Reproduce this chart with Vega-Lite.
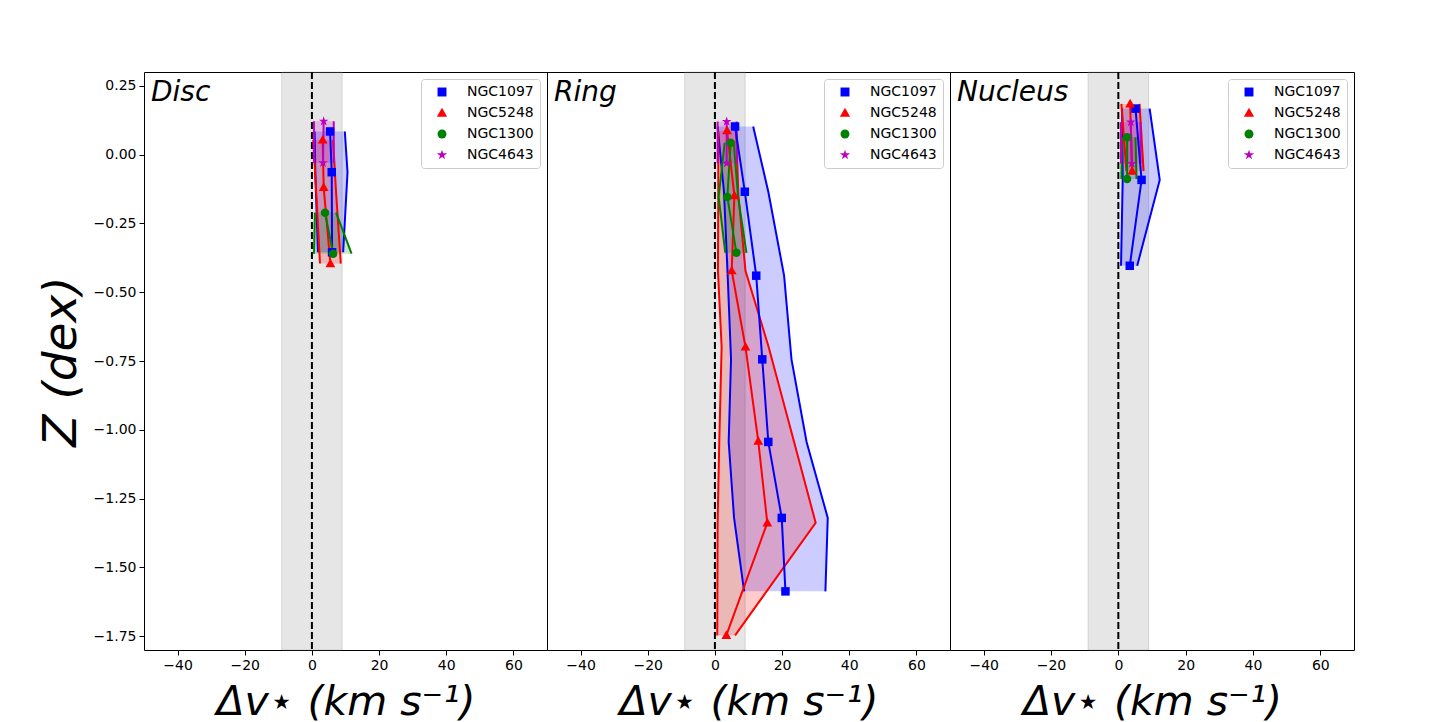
{
  "$schema": "https://vega.github.io/schema/vega-lite/v6.json",
  "padding": {"left": 36, "top": 70, "right": 0, "bottom": 0},
  "bounds": "flush",
  "spacing": 0,
  "datasets": {
    "d": [
      {"panel": "Disc", "galaxy": "NGC1097", "Z": 0.084, "dv": 5.4, "lo": 0.8, "hi": 9.8},
      {"panel": "Disc", "galaxy": "NGC1097", "Z": -0.064, "dv": 5.9, "lo": 1.0, "hi": 10.6},
      {"panel": "Disc", "galaxy": "NGC1097", "Z": -0.355, "dv": 6.0, "lo": 1.8, "hi": 9.3},
      {"panel": "Disc", "galaxy": "NGC5248", "Z": 0.053, "dv": 3.2, "lo": 0.4, "hi": 6.3},
      {"panel": "Disc", "galaxy": "NGC5248", "Z": -0.119, "dv": 3.5, "lo": 1.2, "hi": 7.1},
      {"panel": "Disc", "galaxy": "NGC5248", "Z": -0.396, "dv": 5.5, "lo": 2.4, "hi": 8.6},
      {"panel": "Disc", "galaxy": "NGC1300", "Z": -0.211, "dv": 3.9, "lo": 0.9, "hi": 7.2},
      {"panel": "Disc", "galaxy": "NGC1300", "Z": -0.36, "dv": 6.3, "lo": 0.6, "hi": 11.8},
      {"panel": "Disc", "galaxy": "NGC4643", "Z": 0.121, "dv": 3.5, "lo": 0.6, "hi": 6.5},
      {"panel": "Disc", "galaxy": "NGC4643", "Z": -0.03, "dv": 3.3, "lo": 0.6, "hi": 6.5},

      {"panel": "Ring", "galaxy": "NGC1097", "Z": 0.102, "dv": 6.0, "lo": 0.8, "hi": 11.4},
      {"panel": "Ring", "galaxy": "NGC1097", "Z": -0.135, "dv": 8.9, "lo": 2.7, "hi": 15.9},
      {"panel": "Ring", "galaxy": "NGC1097", "Z": -0.44, "dv": 12.3, "lo": 3.8, "hi": 20.6},
      {"panel": "Ring", "galaxy": "NGC1097", "Z": -0.744, "dv": 14.1, "lo": 4.8, "hi": 22.8},
      {"panel": "Ring", "galaxy": "NGC1097", "Z": -1.044, "dv": 15.9, "lo": 4.1, "hi": 27.3},
      {"panel": "Ring", "galaxy": "NGC1097", "Z": -1.32, "dv": 19.9, "lo": 5.7, "hi": 33.6},
      {"panel": "Ring", "galaxy": "NGC1097", "Z": -1.587, "dv": 21.0, "lo": 8.7, "hi": 32.9},
      {"panel": "Ring", "galaxy": "NGC5248", "Z": 0.087, "dv": 3.6, "lo": 1.0, "hi": 6.3},
      {"panel": "Ring", "galaxy": "NGC5248", "Z": -0.149, "dv": 5.8, "lo": 1.0, "hi": 7.0},
      {"panel": "Ring", "galaxy": "NGC5248", "Z": -0.422, "dv": 5.0, "lo": 0.9, "hi": 9.1},
      {"panel": "Ring", "galaxy": "NGC5248", "Z": -0.699, "dv": 9.1, "lo": 2.0, "hi": 16.0},
      {"panel": "Ring", "galaxy": "NGC5248", "Z": -1.041, "dv": 12.9, "lo": 1.3, "hi": 23.5},
      {"panel": "Ring", "galaxy": "NGC5248", "Z": -1.338, "dv": 15.6, "lo": 0.8, "hi": 30.0},
      {"panel": "Ring", "galaxy": "NGC5248", "Z": -1.747, "dv": 3.4, "lo": 0.7, "hi": 6.0},
      {"panel": "Ring", "galaxy": "NGC1300", "Z": 0.043, "dv": 4.7, "lo": 2.9, "hi": 5.6},
      {"panel": "Ring", "galaxy": "NGC1300", "Z": -0.154, "dv": 3.7, "lo": 1.1, "hi": 6.9},
      {"panel": "Ring", "galaxy": "NGC1300", "Z": -0.357, "dv": 6.4, "lo": 3.1, "hi": 9.4},
      {"panel": "Ring", "galaxy": "NGC4643", "Z": 0.12, "dv": 3.5, "lo": 0.8, "hi": 6.5},
      {"panel": "Ring", "galaxy": "NGC4643", "Z": -0.032, "dv": 3.5, "lo": 0.8, "hi": 6.5},

      {"panel": "Nucleus", "galaxy": "NGC1097", "Z": 0.167, "dv": 5.1, "lo": 1.1, "hi": 9.3},
      {"panel": "Nucleus", "galaxy": "NGC1097", "Z": -0.092, "dv": 6.9, "lo": 1.3, "hi": 12.3},
      {"panel": "Nucleus", "galaxy": "NGC1097", "Z": -0.404, "dv": 3.4, "lo": 0.8, "hi": 5.6},
      {"panel": "Nucleus", "galaxy": "NGC5248", "Z": 0.184, "dv": 3.5, "lo": 0.9, "hi": 6.3},
      {"panel": "Nucleus", "galaxy": "NGC5248", "Z": -0.06, "dv": 4.1, "lo": 2.4, "hi": 7.5},
      {"panel": "Nucleus", "galaxy": "NGC1300", "Z": 0.063, "dv": 2.6, "lo": 1.1, "hi": 5.1},
      {"panel": "Nucleus", "galaxy": "NGC1300", "Z": -0.089, "dv": 2.6, "lo": 0.9, "hi": 5.4},
      {"panel": "Nucleus", "galaxy": "NGC4643", "Z": 0.118, "dv": 3.7, "lo": 0.8, "hi": 6.6},
      {"panel": "Nucleus", "galaxy": "NGC4643", "Z": -0.033, "dv": 4.0, "lo": 0.8, "hi": 6.6}
    ]
  },
  "hconcat": [
    {
      "width": 403,
      "height": 578,
      "layer": [
        {"data": {"values": [{}]}, "mark": {"type": "rect", "color": "gray", "fillOpacity": 0.2, "stroke": "gray", "strokeOpacity": 0.25, "strokeWidth": 1},
         "encoding": {"x": {"datum": -9, "type": "quantitative", "scale": {"domain": [-50, 70], "nice": false}, "title": "Δv⋆ (km s⁻¹)", "axis": {"values": [-40, -20, 0, 20, 40, 60]}}, "x2": {"datum": 9}}},
        {"data": {"values": [{}]}, "mark": {"type": "rule", "color": "black", "strokeWidth": 2, "strokeDash": [7, 3]},
         "encoding": {"x": {"datum": 0, "type": "quantitative", "scale": {"domain": [-50, 70], "nice": false}, "title": "Δv⋆ (km s⁻¹)", "axis": {"values": [-40, -20, 0, 20, 40, 60]}}}},
        {"data": {"name": "d"}, "transform": [{"filter": "datum.panel === 'Disc'"}],
         "layer": [
           {"mark": {"type": "area", "orient": "horizontal", "fillOpacity": 0.2},
            "encoding": {"x": {"field": "lo", "type": "quantitative", "scale": {"domain": [-50, 70], "nice": false}, "title": "Δv⋆ (km s⁻¹)", "axis": {"values": [-40, -20, 0, 20, 40, 60]}}, "x2": {"field": "hi"},
              "y": {"field": "Z", "type": "quantitative", "scale": {"domain": [-1.8, 0.3], "nice": false, "zero": false}, "title": "Z (dex)", "axis": {"values": [-1.75, -1.5, -1.25, -1, -0.75, -0.5, -0.25, 0, 0.25]}},
              "color": {"field": "galaxy", "type": "nominal", "title": null, "scale": {"domain": ["NGC1097", "NGC5248", "NGC1300", "NGC4643"], "range": ["#0000ff", "#ff0000", "#008000", "#bf00bf"]}}}},
           {"mark": {"type": "line", "strokeWidth": 2},
            "encoding": {"x": {"field": "lo", "type": "quantitative", "scale": {"domain": [-50, 70], "nice": false}, "title": "Δv⋆ (km s⁻¹)", "axis": {"values": [-40, -20, 0, 20, 40, 60]}},
              "y": {"field": "Z", "type": "quantitative", "scale": {"domain": [-1.8, 0.3], "nice": false, "zero": false}, "title": "Z (dex)", "axis": {"values": [-1.75, -1.5, -1.25, -1, -0.75, -0.5, -0.25, 0, 0.25]}},
              "order": {"field": "Z"},
              "color": {"field": "galaxy", "type": "nominal", "title": null, "scale": {"domain": ["NGC1097", "NGC5248", "NGC1300", "NGC4643"], "range": ["#0000ff", "#ff0000", "#008000", "#bf00bf"]}}}},
           {"mark": {"type": "line", "strokeWidth": 2},
            "encoding": {"x": {"field": "hi", "type": "quantitative", "scale": {"domain": [-50, 70], "nice": false}, "title": "Δv⋆ (km s⁻¹)", "axis": {"values": [-40, -20, 0, 20, 40, 60]}},
              "y": {"field": "Z", "type": "quantitative", "scale": {"domain": [-1.8, 0.3], "nice": false, "zero": false}, "title": "Z (dex)", "axis": {"values": [-1.75, -1.5, -1.25, -1, -0.75, -0.5, -0.25, 0, 0.25]}},
              "order": {"field": "Z"},
              "color": {"field": "galaxy", "type": "nominal", "title": null, "scale": {"domain": ["NGC1097", "NGC5248", "NGC1300", "NGC4643"], "range": ["#0000ff", "#ff0000", "#008000", "#bf00bf"]}}}},
           {"mark": {"type": "line", "strokeWidth": 2},
            "encoding": {"x": {"field": "dv", "type": "quantitative", "scale": {"domain": [-50, 70], "nice": false}, "title": "Δv⋆ (km s⁻¹)", "axis": {"values": [-40, -20, 0, 20, 40, 60]}},
              "y": {"field": "Z", "type": "quantitative", "scale": {"domain": [-1.8, 0.3], "nice": false, "zero": false}, "title": "Z (dex)", "axis": {"values": [-1.75, -1.5, -1.25, -1, -0.75, -0.5, -0.25, 0, 0.25]}},
              "order": {"field": "Z"},
              "color": {"field": "galaxy", "type": "nominal", "title": null, "scale": {"domain": ["NGC1097", "NGC5248", "NGC1300", "NGC4643"], "range": ["#0000ff", "#ff0000", "#008000", "#bf00bf"]}}}},
           {"mark": {"type": "point", "filled": true, "opacity": 1, "size": 72},
            "encoding": {"x": {"field": "dv", "type": "quantitative", "scale": {"domain": [-50, 70], "nice": false}, "title": "Δv⋆ (km s⁻¹)", "axis": {"values": [-40, -20, 0, 20, 40, 60]}},
              "y": {"field": "Z", "type": "quantitative", "scale": {"domain": [-1.8, 0.3], "nice": false, "zero": false}, "title": "Z (dex)", "axis": {"values": [-1.75, -1.5, -1.25, -1, -0.75, -0.5, -0.25, 0, 0.25]}},
              "color": {"field": "galaxy", "type": "nominal", "title": null, "scale": {"domain": ["NGC1097", "NGC5248", "NGC1300", "NGC4643"], "range": ["#0000ff", "#ff0000", "#008000", "#bf00bf"]}},
              "shape": {"field": "galaxy", "type": "nominal", "title": null, "scale": {"domain": ["NGC1097", "NGC5248", "NGC1300", "NGC4643"], "range": ["square", "M0,-1.2L1.15,0.85L-1.15,0.85Z", "circle", "M0,-1.2L0.27,-0.37L1.14,-0.37L0.44,0.14L0.71,0.97L0,0.46L-0.71,0.97L-0.44,0.14L-1.14,-0.37L-0.27,-0.37Z"]}}}}
         ]},
        {"data": {"values": [{"t": "Disc"}]},
         "mark": {"type": "text", "align": "left", "baseline": "alphabetic", "dx": 7, "dy": 29, "font": "DejaVu Sans", "fontStyle": "italic", "fontSize": 28, "color": "black"},
         "encoding": {"x": {"datum": -50, "type": "quantitative", "scale": {"domain": [-50, 70], "nice": false}, "title": "Δv⋆ (km s⁻¹)", "axis": {"values": [-40, -20, 0, 20, 40, 60]}},
           "y": {"datum": 0.3, "type": "quantitative", "scale": {"domain": [-1.8, 0.3], "nice": false, "zero": false}, "title": "Z (dex)", "axis": {"values": [-1.75, -1.5, -1.25, -1, -0.75, -0.5, -0.25, 0, 0.25]}},
           "text": {"field": "t"}}}
      ]
    },
    {
      "width": 403,
      "height": 578,
      "layer": [
        {"data": {"values": [{}]}, "mark": {"type": "rect", "color": "gray", "fillOpacity": 0.2, "stroke": "gray", "strokeOpacity": 0.25, "strokeWidth": 1},
         "encoding": {"x": {"datum": -9, "type": "quantitative", "scale": {"domain": [-50, 70], "nice": false}, "title": "Δv⋆ (km s⁻¹)", "axis": {"values": [-40, -20, 0, 20, 40, 60]}}, "x2": {"datum": 9}}},
        {"data": {"values": [{}]}, "mark": {"type": "rule", "color": "black", "strokeWidth": 2, "strokeDash": [7, 3]},
         "encoding": {"x": {"datum": 0, "type": "quantitative", "scale": {"domain": [-50, 70], "nice": false}, "title": "Δv⋆ (km s⁻¹)", "axis": {"values": [-40, -20, 0, 20, 40, 60]}}}},
        {"data": {"name": "d"}, "transform": [{"filter": "datum.panel === 'Ring'"}],
         "layer": [
           {"mark": {"type": "area", "orient": "horizontal", "fillOpacity": 0.2},
            "encoding": {"x": {"field": "lo", "type": "quantitative", "scale": {"domain": [-50, 70], "nice": false}, "title": "Δv⋆ (km s⁻¹)", "axis": {"values": [-40, -20, 0, 20, 40, 60]}}, "x2": {"field": "hi"},
              "y": {"field": "Z", "type": "quantitative", "scale": {"domain": [-1.8, 0.3], "nice": false, "zero": false}, "axis": null},
              "color": {"field": "galaxy", "type": "nominal", "title": null, "scale": {"domain": ["NGC1097", "NGC5248", "NGC1300", "NGC4643"], "range": ["#0000ff", "#ff0000", "#008000", "#bf00bf"]}}}},
           {"mark": {"type": "line", "strokeWidth": 2},
            "encoding": {"x": {"field": "lo", "type": "quantitative", "scale": {"domain": [-50, 70], "nice": false}, "title": "Δv⋆ (km s⁻¹)", "axis": {"values": [-40, -20, 0, 20, 40, 60]}},
              "y": {"field": "Z", "type": "quantitative", "scale": {"domain": [-1.8, 0.3], "nice": false, "zero": false}, "axis": null},
              "order": {"field": "Z"},
              "color": {"field": "galaxy", "type": "nominal", "title": null, "scale": {"domain": ["NGC1097", "NGC5248", "NGC1300", "NGC4643"], "range": ["#0000ff", "#ff0000", "#008000", "#bf00bf"]}}}},
           {"mark": {"type": "line", "strokeWidth": 2},
            "encoding": {"x": {"field": "hi", "type": "quantitative", "scale": {"domain": [-50, 70], "nice": false}, "title": "Δv⋆ (km s⁻¹)", "axis": {"values": [-40, -20, 0, 20, 40, 60]}},
              "y": {"field": "Z", "type": "quantitative", "scale": {"domain": [-1.8, 0.3], "nice": false, "zero": false}, "axis": null},
              "order": {"field": "Z"},
              "color": {"field": "galaxy", "type": "nominal", "title": null, "scale": {"domain": ["NGC1097", "NGC5248", "NGC1300", "NGC4643"], "range": ["#0000ff", "#ff0000", "#008000", "#bf00bf"]}}}},
           {"mark": {"type": "line", "strokeWidth": 2},
            "encoding": {"x": {"field": "dv", "type": "quantitative", "scale": {"domain": [-50, 70], "nice": false}, "title": "Δv⋆ (km s⁻¹)", "axis": {"values": [-40, -20, 0, 20, 40, 60]}},
              "y": {"field": "Z", "type": "quantitative", "scale": {"domain": [-1.8, 0.3], "nice": false, "zero": false}, "axis": null},
              "order": {"field": "Z"},
              "color": {"field": "galaxy", "type": "nominal", "title": null, "scale": {"domain": ["NGC1097", "NGC5248", "NGC1300", "NGC4643"], "range": ["#0000ff", "#ff0000", "#008000", "#bf00bf"]}}}},
           {"mark": {"type": "point", "filled": true, "opacity": 1, "size": 72},
            "encoding": {"x": {"field": "dv", "type": "quantitative", "scale": {"domain": [-50, 70], "nice": false}, "title": "Δv⋆ (km s⁻¹)", "axis": {"values": [-40, -20, 0, 20, 40, 60]}},
              "y": {"field": "Z", "type": "quantitative", "scale": {"domain": [-1.8, 0.3], "nice": false, "zero": false}, "axis": null},
              "color": {"field": "galaxy", "type": "nominal", "title": null, "scale": {"domain": ["NGC1097", "NGC5248", "NGC1300", "NGC4643"], "range": ["#0000ff", "#ff0000", "#008000", "#bf00bf"]}},
              "shape": {"field": "galaxy", "type": "nominal", "title": null, "scale": {"domain": ["NGC1097", "NGC5248", "NGC1300", "NGC4643"], "range": ["square", "M0,-1.2L1.15,0.85L-1.15,0.85Z", "circle", "M0,-1.2L0.27,-0.37L1.14,-0.37L0.44,0.14L0.71,0.97L0,0.46L-0.71,0.97L-0.44,0.14L-1.14,-0.37L-0.27,-0.37Z"]}}}}
         ]},
        {"data": {"values": [{"t": "Ring"}]},
         "mark": {"type": "text", "align": "left", "baseline": "alphabetic", "dx": 7, "dy": 29, "font": "DejaVu Sans", "fontStyle": "italic", "fontSize": 28, "color": "black"},
         "encoding": {"x": {"datum": -50, "type": "quantitative", "scale": {"domain": [-50, 70], "nice": false}, "title": "Δv⋆ (km s⁻¹)", "axis": {"values": [-40, -20, 0, 20, 40, 60]}},
           "y": {"datum": 0.3, "type": "quantitative", "scale": {"domain": [-1.8, 0.3], "nice": false, "zero": false}, "axis": null},
           "text": {"field": "t"}}}
      ]
    },
    {
      "width": 404,
      "height": 578,
      "layer": [
        {"data": {"values": [{}]}, "mark": {"type": "rect", "color": "gray", "fillOpacity": 0.2, "stroke": "gray", "strokeOpacity": 0.25, "strokeWidth": 1},
         "encoding": {"x": {"datum": -9, "type": "quantitative", "scale": {"domain": [-50, 70], "nice": false}, "title": "Δv⋆ (km s⁻¹)", "axis": {"values": [-40, -20, 0, 20, 40, 60]}}, "x2": {"datum": 9}}},
        {"data": {"values": [{}]}, "mark": {"type": "rule", "color": "black", "strokeWidth": 2, "strokeDash": [7, 3]},
         "encoding": {"x": {"datum": 0, "type": "quantitative", "scale": {"domain": [-50, 70], "nice": false}, "title": "Δv⋆ (km s⁻¹)", "axis": {"values": [-40, -20, 0, 20, 40, 60]}}}},
        {"data": {"name": "d"}, "transform": [{"filter": "datum.panel === 'Nucleus'"}],
         "layer": [
           {"mark": {"type": "area", "orient": "horizontal", "fillOpacity": 0.2},
            "encoding": {"x": {"field": "lo", "type": "quantitative", "scale": {"domain": [-50, 70], "nice": false}, "title": "Δv⋆ (km s⁻¹)", "axis": {"values": [-40, -20, 0, 20, 40, 60]}}, "x2": {"field": "hi"},
              "y": {"field": "Z", "type": "quantitative", "scale": {"domain": [-1.8, 0.3], "nice": false, "zero": false}, "axis": null},
              "color": {"field": "galaxy", "type": "nominal", "title": null, "scale": {"domain": ["NGC1097", "NGC5248", "NGC1300", "NGC4643"], "range": ["#0000ff", "#ff0000", "#008000", "#bf00bf"]}}}},
           {"mark": {"type": "line", "strokeWidth": 2},
            "encoding": {"x": {"field": "lo", "type": "quantitative", "scale": {"domain": [-50, 70], "nice": false}, "title": "Δv⋆ (km s⁻¹)", "axis": {"values": [-40, -20, 0, 20, 40, 60]}},
              "y": {"field": "Z", "type": "quantitative", "scale": {"domain": [-1.8, 0.3], "nice": false, "zero": false}, "axis": null},
              "order": {"field": "Z"},
              "color": {"field": "galaxy", "type": "nominal", "title": null, "scale": {"domain": ["NGC1097", "NGC5248", "NGC1300", "NGC4643"], "range": ["#0000ff", "#ff0000", "#008000", "#bf00bf"]}}}},
           {"mark": {"type": "line", "strokeWidth": 2},
            "encoding": {"x": {"field": "hi", "type": "quantitative", "scale": {"domain": [-50, 70], "nice": false}, "title": "Δv⋆ (km s⁻¹)", "axis": {"values": [-40, -20, 0, 20, 40, 60]}},
              "y": {"field": "Z", "type": "quantitative", "scale": {"domain": [-1.8, 0.3], "nice": false, "zero": false}, "axis": null},
              "order": {"field": "Z"},
              "color": {"field": "galaxy", "type": "nominal", "title": null, "scale": {"domain": ["NGC1097", "NGC5248", "NGC1300", "NGC4643"], "range": ["#0000ff", "#ff0000", "#008000", "#bf00bf"]}}}},
           {"mark": {"type": "line", "strokeWidth": 2},
            "encoding": {"x": {"field": "dv", "type": "quantitative", "scale": {"domain": [-50, 70], "nice": false}, "title": "Δv⋆ (km s⁻¹)", "axis": {"values": [-40, -20, 0, 20, 40, 60]}},
              "y": {"field": "Z", "type": "quantitative", "scale": {"domain": [-1.8, 0.3], "nice": false, "zero": false}, "axis": null},
              "order": {"field": "Z"},
              "color": {"field": "galaxy", "type": "nominal", "title": null, "scale": {"domain": ["NGC1097", "NGC5248", "NGC1300", "NGC4643"], "range": ["#0000ff", "#ff0000", "#008000", "#bf00bf"]}}}},
           {"mark": {"type": "point", "filled": true, "opacity": 1, "size": 72},
            "encoding": {"x": {"field": "dv", "type": "quantitative", "scale": {"domain": [-50, 70], "nice": false}, "title": "Δv⋆ (km s⁻¹)", "axis": {"values": [-40, -20, 0, 20, 40, 60]}},
              "y": {"field": "Z", "type": "quantitative", "scale": {"domain": [-1.8, 0.3], "nice": false, "zero": false}, "axis": null},
              "color": {"field": "galaxy", "type": "nominal", "title": null, "scale": {"domain": ["NGC1097", "NGC5248", "NGC1300", "NGC4643"], "range": ["#0000ff", "#ff0000", "#008000", "#bf00bf"]}},
              "shape": {"field": "galaxy", "type": "nominal", "title": null, "scale": {"domain": ["NGC1097", "NGC5248", "NGC1300", "NGC4643"], "range": ["square", "M0,-1.2L1.15,0.85L-1.15,0.85Z", "circle", "M0,-1.2L0.27,-0.37L1.14,-0.37L0.44,0.14L0.71,0.97L0,0.46L-0.71,0.97L-0.44,0.14L-1.14,-0.37L-0.27,-0.37Z"]}}}}
         ]},
        {"data": {"values": [{"t": "Nucleus"}]},
         "mark": {"type": "text", "align": "left", "baseline": "alphabetic", "dx": 7, "dy": 29, "font": "DejaVu Sans", "fontStyle": "italic", "fontSize": 28, "color": "black"},
         "encoding": {"x": {"datum": -50, "type": "quantitative", "scale": {"domain": [-50, 70], "nice": false}, "title": "Δv⋆ (km s⁻¹)", "axis": {"values": [-40, -20, 0, 20, 40, 60]}},
           "y": {"datum": 0.3, "type": "quantitative", "scale": {"domain": [-1.8, 0.3], "nice": false, "zero": false}, "axis": null},
           "text": {"field": "t"}}}
      ]
    }
  ],
  "resolve": {
    "scale": {"x": "independent", "y": "independent", "color": "independent", "shape": "independent"},
    "legend": {"color": "independent", "shape": "independent"}
  },
  "config": {
    "view": {"stroke": "black", "strokeWidth": 1},
    "font": "DejaVu Sans",
    "axis": {
      "domain": false, "grid": false, "tickColor": "black", "tickSize": 5, "tickWidth": 1,
      "labelFont": "DejaVu Sans", "labelFontSize": 14, "labelColor": "black", "labelPadding": 3,
      "titleFont": "DejaVu Sans", "titleFontStyle": "italic", "titleFontWeight": "normal", "titleColor": "black"
    },
    "axisX": {"format": "d", "titleFontSize": 41, "titlePadding": 10, "labelFlush": false},
    "axisY": {"format": ".2f", "titleFontSize": 47, "titlePadding": 8, "labelFlush": false},
    "legend": {
      "orient": "top-right", "offset": 7, "padding": 6, "rowPadding": 7, "symbolOffset": 8, "labelOffset": 18,
      "labelFont": "DejaVu Sans", "labelFontSize": 14, "labelColor": "black",
      "fillColor": "rgba(255,255,255,0.8)", "strokeColor": "#cccccc", "cornerRadius": 3,
      "symbolSize": 80, "symbolStrokeWidth": 0, "symbolOpacity": 1
    }
  }
}
